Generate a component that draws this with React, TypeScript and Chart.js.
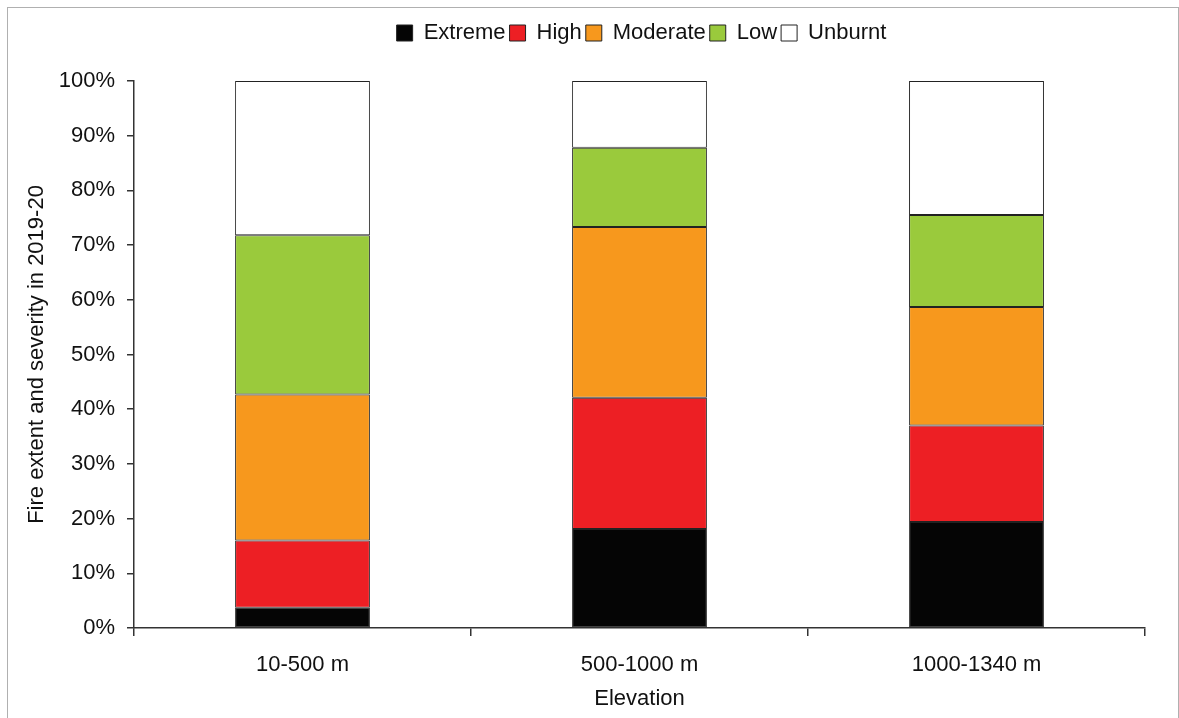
import React, { useEffect, useRef } from "react";
import { Chart, registerables } from "chart.js";

Chart.register(...registerables);

const categories = ["10-500 m", "500-1000 m", "1000-1340 m"];
const extremeValues = [3.7, 18.1, 19.4];
const highValues = [12.3, 24.0, 17.6];
const moderateValues = [26.7, 31.2, 21.7];
const lowValues = [29.1, 14.5, 16.8];
const unburntValues = [28.2, 12.2, 24.5];
const seriesNames = ["Extreme", "High", "Moderate", "Low", "Unburnt"];
const seriesColors = ["#050505", "#ED1F24", "#F7981D", "#9ACA3C", "#FFFFFF"];
const yTicks = [0, 10, 20, 30, 40, 50, 60, 70, 80, 90, 100];

const FONT = "'Liberation Sans', Arial, sans-serif";
const TEXT = "#111111";
const AXIS = "#333333";

export default function App() {
  const ref = useRef<HTMLCanvasElement>(null);

  useEffect(() => {
    if (!ref.current) return;
    const seriesValues = [extremeValues, highValues, moderateValues, lowValues, unburntValues];
    const legendSpacer = {
      id: "legendSpacer",
      beforeInit(chart: any) {
        const orig = chart.legend.fit;
        chart.legend.fit = function () {
          orig.call(this);
          this.height = 63;
        };
      },
      afterLayout(chart: any) {
        const lg = chart.legend;
        const w = lg.right - lg.left;
        lg.left = chart.chartArea.left + 0;
        lg.right = chart.chartArea.right + 4;
        lg.width = lg.right - lg.left || w;
      },
    };
    const chart = new Chart(ref.current, {
      type: "bar",
      data: {
        labels: categories,
        datasets: seriesNames.map((name, i) => ({
          label: name,
          data: seriesValues[i],
          backgroundColor: seriesColors[i],
          borderColor: "#222222",
          borderWidth: 1,
          borderSkipped: false,
          barPercentage: 0.4,
          categoryPercentage: 1,
        })),
      },
      options: {
        animation: false,
        responsive: false,
        maintainAspectRatio: false,
        layout: { padding: { top: 18, left: 0, right: 34, bottom: 0 } },
        plugins: {
          tooltip: { enabled: false },
          legend: {
            position: "top",
            labels: {
              boxWidth: 16,
              boxHeight: 16,
              padding: 4,
              color: TEXT,
              font: { family: FONT, size: 22 },
            },
          },
        },
        scales: {
          x: {
            stacked: true,
            offset: true,
            grid: {
              offset: true,
              drawOnChartArea: false,
              drawTicks: true,
              tickLength: 8,
              color: AXIS,
              lineWidth: 1.5,
            },
            border: { color: AXIS, width: 1.5 },
            ticks: { color: TEXT, font: { family: FONT, size: 22 }, padding: 16, maxRotation: 0 },
            title: {
              display: true,
              text: "Elevation",
              color: TEXT,
              font: { family: FONT, size: 22 },
              padding: { top: 0, bottom: 6 },
            },
            afterFit(scale: any) {
              scale.height = 90;
            },
          },
          y: {
            stacked: true,
            min: 0,
            max: 100,
            afterBuildTicks(scale: any) {
              scale.ticks = yTicks.map((v) => ({ value: v }));
            },
            grid: {
              drawOnChartArea: false,
              drawTicks: true,
              tickLength: 7,
              color: AXIS,
              lineWidth: 1.5,
            },
            border: { color: AXIS, width: 1.5 },
            ticks: {
              color: TEXT,
              font: { family: FONT, size: 22 },
              padding: 12,
              callback: (v: any) => v + "%",
            },
            title: {
              display: true,
              text: "Fire extent and severity in 2019-20",
              color: TEXT,
              font: { family: FONT, size: 22 },
              padding: { top: 24, bottom: 0 },
            },
            afterFit(scale: any) {
              scale.width = 134;
            },
          },
        },
      },
      plugins: [legendSpacer],
    });
    return () => chart.destroy();
  }, []);

  return (
    <div>
      <div
        style={{
          position: "fixed",
          left: 7,
          top: 7,
          width: 1172,
          height: 730,
          border: "1px solid #b0b0b0",
          boxSizing: "border-box",
          background: "#fff",
        }}
      />
      <canvas
        ref={ref}
        width={1179}
        height={718}
        style={{ position: "fixed", left: 0, top: 0, width: 1179, height: 718 }}
      />
    </div>
  );
}
